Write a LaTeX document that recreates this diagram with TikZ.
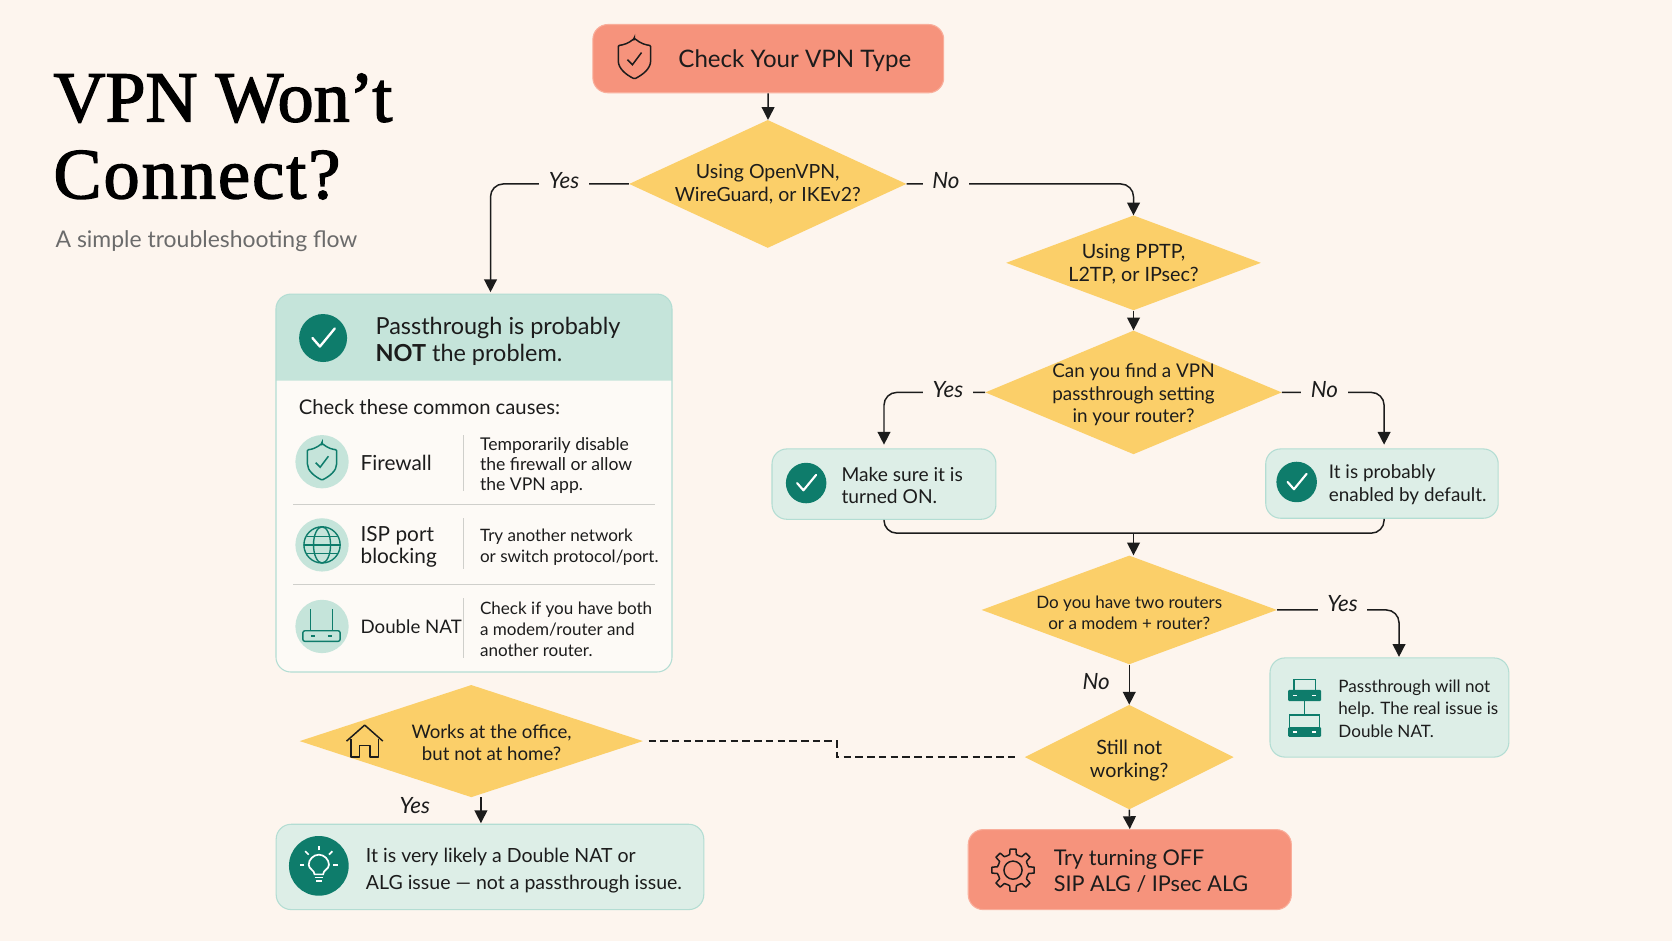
\documentclass[tikz,border=0pt]{standalone}
\usepackage{fontspec}
\setmainfont{Lato}
\newfontfamily\titlefont[FakeBold=2]{Liberation Serif}
\usetikzlibrary{shapes,arrows.meta,positioning}

\definecolor{pagebg}{HTML}{FDF5EE}
\definecolor{ink}{HTML}{1C1C1C}
\definecolor{salmon}{HTML}{F6937C}
\definecolor{salmonedge}{HTML}{F9AE9B}
\definecolor{amber}{HTML}{FBCF69}
\definecolor{mint}{HTML}{DDEEE7}
\definecolor{mintedge}{HTML}{B3DDD3}
\definecolor{minthead}{HTML}{C5E4DA}
\definecolor{teal}{HTML}{0E7C6B}
\definecolor{paper}{HTML}{FDFAF6}
\definecolor{rulegrey}{HTML}{CFCFCB}

\newcommand{\fsize}[2]{\fontsize{#1}{#2}\selectfont}
\newcommand{\topgap}[1]{\rule{0pt}{#1}}

\tikzset{
    decision/.style={diamond, fill=amber, inner sep=-30pt, align=center, text=ink},
    redbox/.style={rectangle, rounded corners=14pt, fill=salmon, draw=salmonedge, line width=1pt},
    greenbox/.style={rectangle, rounded corners=14pt, fill=mint, draw=mintedge, line width=1pt},
    boxtext/.style={anchor=west, align=left, inner sep=0pt, text=ink},
    flow/.style={draw=ink, line width=1.4pt, rounded corners=12pt, -{Stealth[length=12pt,width=12pt,inset=0pt]}},
    plainflow/.style={draw=ink, line width=1.4pt, rounded corners=12pt},
    flowlabel/.style={fill=pagebg, inner xsep=9pt, inner ysep=1pt, text=ink, font=\fsize{21}{21}\itshape},
    tealball/.style={circle, fill=teal, minimum size=#1, inner sep=0pt},
    iconball/.style={circle, fill=minthead, minimum size=50pt, inner sep=0pt},
    shieldpic/.pic={
        \draw[rounded corners=1pt] (0,-20) .. controls (6,-15) and (11,-13.5) .. (16,-13) -- (16,1)
            .. controls (16,10) and (8,16) .. (0,20) .. controls (-8,16) and (-16,10) .. (-16,1)
            -- (-16,-13) .. controls (-11,-13.5) and (-6,-15) .. cycle;
        \draw (-7,1) -- (-2,6) -- (7,-6);
    },
    checkpic/.pic={
        \draw[line cap=round, line join=round] (-10,0) -- (-3,8) -- (11,-9);
    },
    globepic/.pic={
        \draw (0,0) circle [radius=17];
        \draw (0,0) ellipse [x radius=8, y radius=17];
        \draw (-17,0) -- (17,0);
        \draw (-14.5,-8) -- (14.5,-8);
        \draw (-14.5,8) -- (14.5,8);
    },
    routerpic/.pic={
        \draw[rounded corners=2pt] (-17.5,4) rectangle (17.5,14);
        \draw (-10.5,4) -- (-10.5,-16);
        \draw (10.5,4) -- (10.5,-16);
        \draw (-10,9) -- (-6,9);
        \draw (6,9) -- (10,9);
    },
    housepic/.pic={
        \draw[line join=round] (-17,0) -- (0,-15) -- (17,0);
        \draw[line join=round] (-13,-2) -- (-13,15) -- (-5,15) -- (-5,4) -- (5,4) -- (5,15) -- (13,15) -- (13,-2);
    },
    bulbpic/.pic={
        \draw (-4,8) .. controls (-4,4) and (-9.5,3) .. (-9.5,-1) .. controls (-9.5,-6) and (-5,-10.5) .. (0,-10.5)
            .. controls (5,-10.5) and (9.5,-6) .. (9.5,-1) .. controls (9.5,3) and (4,4) .. (4,8) -- cycle;
        \draw (-4,11) -- (4,11);
        \draw (-2.5,14.5) -- (2.5,14.5);
        \foreach \a in {180,225,270,315,360} {
            \draw ([shift={(0,-1)}]\a:13.5) -- ([shift={(0,-1)}]\a:18);
        }
    },
    gearpic/.pic={
        \foreach \a in {0,45,...,315} {
            \draw[line join=round] ({\a-22.5}:14.5) -- ({\a-12}:15) -- ({\a-8}:20) -- ({\a+8}:20) -- ({\a+12}:15) -- ({\a+22.5}:14.5);
        }
        \draw (0,0) circle [radius=8.5];
    },
    stackpic/.pic={
        % upper box and its loop
        \fill[rounded corners=1pt] (-15.5,-17) rectangle (15.5,-6.5);
        \draw (-10,-17) -- (-10,-27) -- (10,-27) -- (10,-17);
        % lower box and its branch
        \fill[rounded corners=1pt] (-15.5,18) rectangle (15.5,27);
        \draw (0,-6.5) -- (0,6.5);
        \draw (-14,18) -- (-14,6.5) -- (14,6.5) -- (14,18);
        \foreach \py in {-11.5,22.5} {
            \draw[white, line width=1.2pt] (-11,\py) -- (-7,\py);
            \draw[white, line width=1.2pt] (7,\py) -- (11,\py);
        }
    },
}

\begin{document}
\begin{tikzpicture}[x=1pt, y=-1pt]
    \useasboundingbox (0,0) rectangle (1568,882.4);
    \fill[pagebg] (0,0) rectangle (1568,882.4);

    % Title
    \node (title) [boxtext, text=black, font=\fontsize{67.5}{72}\titlefont] at (50,128) {VPN Won’t\\\addfontfeature{LetterSpace=3}Connect?};
    \node (subtitle) [boxtext, text=black!58, font=\fsize{21.5}{24}] at (52,226) {A simple troubleshooting flow};

    % Main flow
    \node (start) [redbox, minimum width=329pt, minimum height=64pt] at (720.5,55) {};
    \node (starttext) [boxtext, font=\fsize{22.6}{24}] at (636,57) {Check Your VPN Type};
    \node (vpnq) [decision, minimum width=260pt, minimum height=120pt, font=\fsize{18.3}{21.5}] at (720,172.5) {Using OpenVPN,\\WireGuard, or IKEv2?};
    \node (pptpq) [decision, minimum width=239pt, minimum height=89pt, font=\fsize{18.5}{21}] at (1063,246.5) {\topgap{15.7pt}Using PPTP,\\L2TP, or IPsec?};
    \node (findq) [decision, minimum width=278pt, minimum height=116pt, font=\fsize{17.7}{21}] at (1063,368) {\topgap{18pt}Can you find a VPN\\passthrough setting\\in your router?};
    \node (routersq) [decision, minimum width=277pt, minimum height=102pt, font=\fsize{16}{20}] at (1059,572) {\topgap{17pt}Do you have two routers\\or a modem + router?};
    \node (stillq) [decision, minimum width=196pt, minimum height=98pt, font=\fsize{18.5}{22}] at (1059,710) {\topgap{20.5pt}Still not\\working?};
    \node (worksq) [decision, minimum width=322pt, minimum height=105pt, font=\fsize{17.5}{21}] at (442,695) {\topgap{16pt}\hspace*{38pt}Works at the office,\\\hspace*{38pt}but not at home?};

    % Result boxes
    \node (turnon) [greenbox, minimum width=210pt, minimum height=66pt] at (829,454) {};
    \node (turnontext) [boxtext, font=\fsize{18}{21}] at (789,455.5) {Make sure it is\\turned ON.};
    \node (enabled) [greenbox, minimum width=218pt, minimum height=65pt] at (1296,453.5) {};
    \node (enabledtext) [boxtext, font=\fsize{17.7}{21}] at (1246,454.5) {It is probably\\enabled by default.};
    \node (natbox) [greenbox, minimum width=224pt, minimum height=93pt] at (1303,663.5) {};
    \node (nattext) [boxtext, font=\fsize{16}{21}] at (1255,664.5) {Passthrough will not\\help. The real issue is\\Double NAT.};
    \node (likely) [greenbox, minimum width=401pt, minimum height=80pt] at (459.5,813) {};
    \node (likelytext) [boxtext, font=\fsize{18.3}{25}] at (343,816.5) {It is very likely a Double NAT or\\ALG issue — not a passthrough issue.};
    \node (fix) [redbox, minimum width=303pt, minimum height=75pt] at (1059.5,815.5) {};
    \node (fixtext) [boxtext, font=\fsize{20.3}{24}] at (988,817) {Try turning OFF\\SIP ALG / IPsec ALG};

    % Causes card
    \node (card) [rectangle, rounded corners=14pt, fill=paper, minimum width=371pt, minimum height=354pt] at (444.5,453) {};
    \fill[minthead] (card.west |- 0,357) [rounded corners=14pt] -- (card.north west) -- (card.north east) [sharp corners] -- (card.east |- 0,357) -- cycle;
    \draw[mintedge, line width=1pt, rounded corners=14pt] (card.south west) rectangle (card.north east);
    \node (cardball) [tealball=45pt] at (303,317) {};
    \pic[white, line width=2.2pt] at (cardball) {checkpic};
    \node (cardhead) [boxtext, font=\fsize{22}{25}] at (352,320) {Passthrough is probably\\\textbf{NOT} the problem.};
    \node (cardintro) [boxtext, font=\fsize{19}{19}] at (280,381.5) {Check these common causes:};

    % Causes rows
    \node (fwball) [iconball] at (302,433) {};
    \node (ispball) [iconball] at (302,511) {};
    \node (natball) [iconball] at (302,587.5) {};
    \node (fwname) [boxtext, font=\fsize{19.5}{20}] at (338,434) {Firewall};
    \node (ispname) [boxtext, font=\fsize{19.5}{21}] at (338,513) {ISP port\\blocking};
    \node (natname) [boxtext, font=\fsize{17.5}{20}] at (338,588) {Double NAT};
    \node (fwhelp) [boxtext, font=\fsize{16.5}{19}] at (450,436.5) {Temporarily disable\\the firewall or allow\\the VPN app.};
    \node (isphelp) [boxtext, font=\fsize{16}{19.5}] at (450,513) {Try another network\\or switch protocol/port.};
    \node (nathelp) [boxtext, font=\fsize{16}{19.5}] at (450,590) {Check if you have both\\a modem/router and\\another router.};
    \foreach \ya/\yb in {408/460, 486/534, 561/617} {
        \draw[rulegrey, line width=1pt] (435,\ya) -- (435,\yb);
    }
    \draw[rulegrey, line width=1.2pt] (275,473) -- (614,473);
    \draw[rulegrey, line width=1pt] (275,548) -- (614,548);

    % Icons
    \pic[ink, line width=1.4pt, scale=0.95] at (595,55) {shieldpic};
    \pic[teal, line width=1.4pt, scale=0.86] at (302,433) {shieldpic};
    \pic[teal, line width=1.3pt] at (302,511) {globepic};
    \pic[teal, line width=1.3pt] at (301.5,587.5) {routerpic};
    \node (turnball) [tealball=38pt] at (756,453) {};
    \pic[white, line width=2pt, scale=0.85] at (turnball) {checkpic};
    \node (enabledball) [tealball=38pt] at (1216,452) {};
    \pic[white, line width=2pt, scale=0.85] at (enabledball) {checkpic};
    \node (likelyball) [tealball=56pt] at (299,812) {};
    \pic[white, line width=1.6pt] at (likelyball) {bulbpic};
    \pic[ink, line width=1.4pt] at (342,695) {housepic};
    \pic[ink, line width=1.4pt] at (950,816) {gearpic};
    \pic[teal, fill=teal, line width=1.2pt] at (1223.5,664) {stackpic};

    % Free ends of the connectors
    \coordinate (yesdrop) at (460,274);
    \coordinate (nodrop) at (1063,202);
    \coordinate (findyes) at (829,417);
    \coordinate (findno) at (1298,417);
    \coordinate (mergept) at (1063,500);
    \coordinate (natdrop) at (1312,616);
    \coordinate (worksdrop) at (451,772);
    \coordinate (dashstep) at (785,700);

    % Connections
    \draw[flow] (start) -- (vpnq);
    \draw[flow] (vpnq.west) -| (yesdrop);
    \draw[flow] (vpnq.east) -| (nodrop);
    \draw[flow] (pptpq) -- (findq);
    \draw[flow] (findq.west) -| (findyes);
    \draw[flow] (findq.east) -| (findno);
    \draw[plainflow] (turnon.south) |- (mergept) -| (findno |- enabled.south);
    \draw[flow] (mergept) -- (mergept |- routersq.north);
    \draw[flow] (routersq.east) -| (natdrop);
    \draw[flow] (routersq.south) -- (stillq.north);
    \draw[flow] (stillq.south) -- (fix.north);
    \draw[flow] (worksdrop |- worksq.south) -- (worksdrop);
    \draw[draw=ink, line width=1.2pt, dash pattern=on 7pt off 4pt, shorten <=5pt, shorten >=5pt] (worksq.east) -- (dashstep |- worksq.east) -- (dashstep |- stillq.west) -- (stillq.west);

    % Connector labels
    \node (vpnyes) [flowlabel] at (529,169) {Yes};
    \node (vpnno) [flowlabel] at (887,169) {No};
    \node (findyeslabel) [flowlabel] at (889,365) {Yes};
    \node (findnolabel) [flowlabel] at (1242,365) {No};
    \node (routersyes) [flowlabel] at (1259,566) {Yes};
    \node (routersno) [flowlabel, fill=none] at (1028,639) {No};
    \node (worksyes) [flowlabel, fill=none] at (389,755) {Yes};
\end{tikzpicture}
\end{document}
